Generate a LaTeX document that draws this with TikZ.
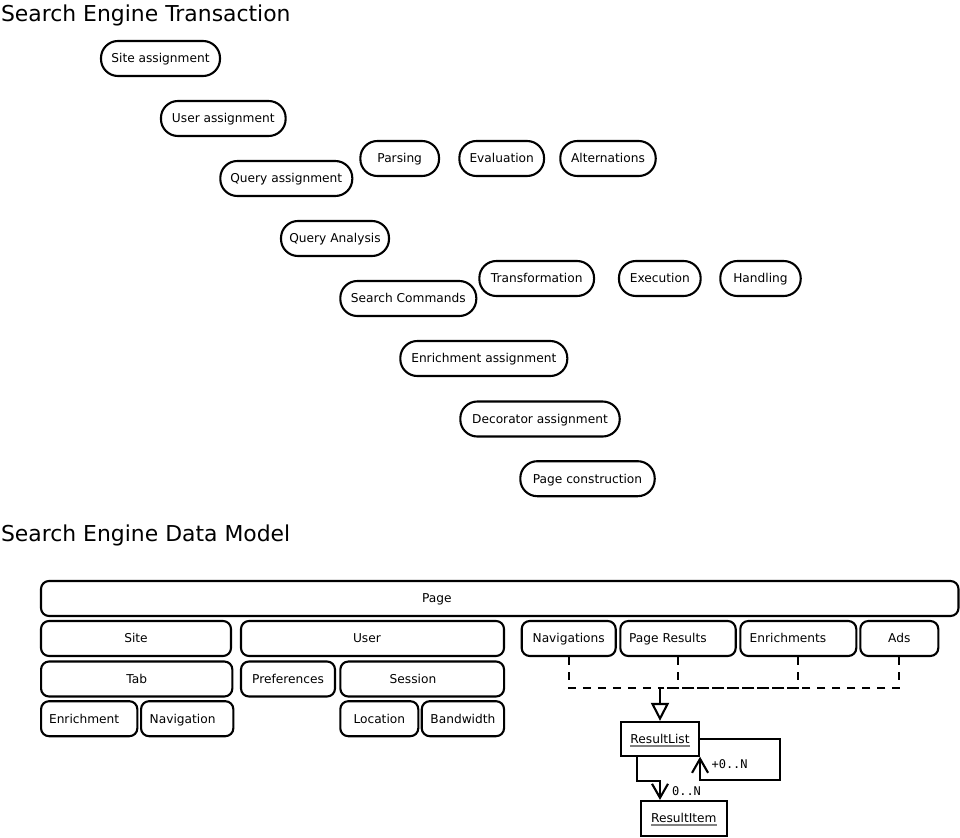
\documentclass[tikz,border=0pt]{standalone}
\usepackage{amsmath}
\usepackage{fontspec}
\setmainfont{DejaVu Sans}
\setmonofont{DejaVu Sans Mono}
\usetikzlibrary{arrows.meta}
\newcommand{\ulgray}[1]{\setbox0\hbox{#1}\rlap{\color{gray}\rule[-3.6pt]{\wd0}{2pt}}\box0}

\begin{document}
\begin{tikzpicture}[x=1pt,y=-1pt,line width=2.1pt]
            \tikzstyle{every node}+=[inner sep=0pt, font=\fontsize{12.2}{14}\selectfont]
            \tikzstyle{stage}=[draw, rounded corners=17pt, minimum height=35, text height=10pt, text depth=1.2pt]
            \tikzstyle{part}=[draw, rounded corners=8pt, minimum height=35, text height=10pt, text depth=1.2pt]
            \tikzstyle{cls}=[draw, minimum height=35, text height=10pt, text depth=1.2pt]
            \tikzstyle{title}=[anchor=base west, font=\fontsize{21.9}{26}\selectfont]
            \tikzstyle{mult}=[anchor=west, font=\ttfamily\fontsize{12}{14}\selectfont]
            \useasboundingbox (0,0) rectangle (960,837);
            \node [title] (ttrans) at (0,21.7) {Search Engine Transaction};
            \node [stage, minimum width=119] (site) at (160.5,58.5) {Site assignment};
            \node [stage, minimum width=124.7] (user) at (223.3,118.5) {User assignment};
            \node [stage, minimum width=132] (query) at (286.3,178.5) {Query assignment};
            \node [stage, minimum width=78.7] (parse) at (399.7,158.5) {Parsing};
            \node [stage, minimum width=84.7] (eval) at (501.7,158.5) {Evaluation};
            \node [stage, minimum width=95.4] (alt) at (608,158.5) {Alternations};
            \node [stage, minimum width=108] (analysis) at (335,238.5) {Query Analysis};
            \node [stage, minimum width=136] (cmds) at (408.3,298.5) {Search Commands};
            \node [stage, minimum width=114.7] (trans) at (536.7,278.5) {Transformation};
            \node [stage, minimum width=81.7] (exec) at (659.8,278.5) {Execution};
            \node [stage, minimum width=80.4] (handle) at (760.5,278.5) {Handling};
            \node [stage, minimum width=167] (enrich) at (483.8,358.5) {Enrichment assignment};
            \node [stage, minimum width=159.4] (deco) at (540,419) {Decorator assignment};
            \node [stage, minimum width=134.4] (pagecons) at (587.5,478.7) {Page construction};
            \node [title] (tmodel) at (0,541) {Search Engine Data Model};
            \node [part, minimum width=917.5, text width=155.5pt, align=left] (page) at (499.75,598.5) {Page};
            \node [part, minimum width=190] (msite) at (136,638.5) {Site};
            \node [part, minimum width=263, text width=39pt, align=left] (muser) at (372.5,638.5) {User};
            \node [part, minimum width=94] (navs) at (568.7,638.5) {Navigations};
            \node [part, minimum width=115.4, text width=98pt, align=left] (presults) at (678,638.5) {Page Results};
            \node [part, minimum width=116, text width=97.2pt, align=left] (enrs) at (798.3,638.5) {Enrichments};
            \node [part, minimum width=78] (ads) at (899.3,638.5) {Ads};
            \node [part, minimum width=191.3] (tab) at (136.7,679) {Tab};
            \node [part, minimum width=94] (prefs) at (288,679) {Preferences};
            \node [part, minimum width=163.7, text width=65pt, align=left] (session) at (422.2,679) {Session};
            \node [part, minimum width=96.3, text width=80.3pt, align=left] (enr) at (89.2,718.7) {Enrichment};
            \node [part, minimum width=92.3, text width=75pt, align=left] (nav) at (187.2,718.7) {Navigation};
            \node [part, minimum width=78] (loc) at (379.3,718.7) {Location};
            \node [part, minimum width=82.3] (bw) at (462.9,718.7) {Bandwidth};
            \node [cls, minimum width=78, minimum height=33.7] (rlist) at (660,738.8) {\ulgray{ResultList}};
            \node [cls, minimum width=85.7, minimum height=34.7] (ritem) at (683.8,818.3) {\ulgray{ResultItem}};
            \coordinate (jn) at (660,688);
            \draw [dash pattern=on 8pt off 7pt] (navs.south) |- (jn);
            \draw [dash pattern=on 8pt off 7pt] (presults.south) |- (jn);
            \draw [dash pattern=on 8pt off 7pt] (enrs.south) |- (jn);
            \draw [dash pattern=on 8pt off 7pt] (ads.south) |- (jn);
            \draw [-{Triangle[open,length=18pt,width=18pt]}] (jn) -- (rlist.north);
            \draw [-{Straight Barb[length=14pt,width=16pt]}] (rlist.east) -- ++(80,0) -- ++(0,41) -| (rlist.south east);
            \node [mult] (mself) at (710.5,764) {+0..N};
            \draw [-{Straight Barb[length=14pt,width=16pt]}] ([xshift=-23pt]rlist.south) -- ++(0,24) -| (rlist.south |- ritem.north);
            \node [mult] (mitem) at (671,791) {0..N};
        \end{tikzpicture}
\end{document}
